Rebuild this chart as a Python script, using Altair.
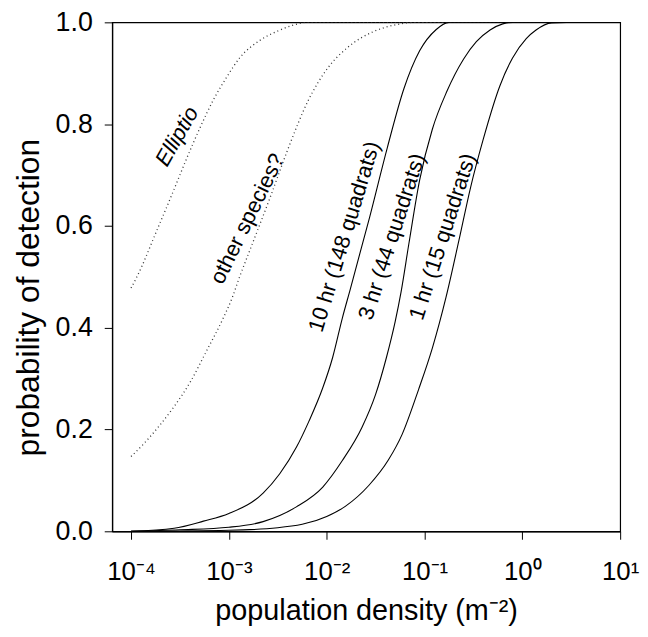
import altair as alt
import pandas as pd

ell_exp = [-4.0, -3.94, -3.73, -3.56, -3.45, -3.29, -3.16, -3.02, -2.89, -2.68, -2.5, -2.35, -2.2, 1.0]
ell_p = [0.478, 0.50, 0.594, 0.672, 0.724, 0.795, 0.847, 0.893, 0.93, 0.965, 0.983, 0.994, 1.0, 1.0]

oth_exp = [-4.0, -3.87, -3.70, -3.56, -3.39, -3.24, -3.06, -2.97, -2.89, -2.77, -2.58, -2.40, -2.19,
           -1.99, -1.79, -1.52, -1.30, -1.10, 1.0]
oth_p = [0.147, 0.172, 0.21, 0.245, 0.295, 0.35, 0.418, 0.457, 0.50, 0.56, 0.655, 0.749, 0.846,
         0.91, 0.95, 0.982, 0.995, 1.0, 1.0]

h10_exp = [-4.0, -3.56, -3.26, -3.0, -2.65, -2.48, -2.31, -2.18, -2.04, -1.94, -1.84, -1.76, -1.56,
           -1.38, -1.21, -1.05, -0.88, -0.75, 1.0]
h10_p = [0.0, 0.006, 0.02, 0.035, 0.075, 0.113, 0.165, 0.217, 0.282, 0.341, 0.419, 0.475, 0.618,
         0.754, 0.87, 0.944, 0.986, 1.0, 1.0]

h3_exp = [-4.0, -3.5, -3.0, -2.65, -2.31, -2.04, -1.84, -1.64, -1.50, -1.39, -1.30, -1.24, -1.16,
          -1.05, -0.92, -0.77, -0.60, -0.47, -0.33, -0.2, -0.1, 1.0]
h3_p = [0.0, 0.003, 0.008, 0.019, 0.048, 0.087, 0.139, 0.204, 0.269, 0.341, 0.412, 0.47, 0.565,
        0.69, 0.79, 0.865, 0.928, 0.962, 0.985, 0.997, 1.0, 1.0]

h1_exp = [-4.0, -3.0, -2.5, -2.0, -1.81, -1.57, -1.37, -1.23, -1.06, -0.92, -0.78, -0.65, -0.53,
          -0.40, -0.23, -0.10, 0.04, 0.14, 0.3, 0.45, 1.0]
h1_p = [0.0, 0.002, 0.007, 0.029, 0.049, 0.09, 0.14, 0.19, 0.279, 0.36, 0.46, 0.57, 0.675,
        0.77, 0.875, 0.93, 0.968, 0.985, 0.999, 1.0, 1.0]

series = [
    ("Elliptio", "dotted", ell_exp, ell_p),
    ("other species?", "dotted", oth_exp, oth_p),
    ("10 hr", "solid", h10_exp, h10_p),
    ("3 hr", "solid", h3_exp, h3_p),
    ("1 hr", "solid", h1_exp, h1_p),
]

rows = []
for name, style, exps, ps in series:
    for i, (e, p) in enumerate(zip(exps, ps)):
        rows.append({"series": name, "style": style, "density": 10 ** e, "p": p, "order": i})
df = pd.DataFrame(rows)

# curve labels (text, log10 density of label centre, probability, rotation)
label_text = ["Elliptio", "other species?", "10 hr (148 quadrats)", "3 hr (44 quadrats)", "1 hr (15 quadrats)"]
label_exp = [-3.53, -2.81, -1.82, -1.333, -0.815]
label_p = [0.776, 0.614, 0.579, 0.579, 0.579]
label_angle = [300, 296, 287, 288, 288]
label_italic = [True, False, False, False, False]
lab = pd.DataFrame({
    "text": label_text,
    "density": [10 ** e for e in label_exp],
    "p": label_p,
    "angle": label_angle,
    "italic": label_italic,
})

tick_vals = [1e-4, 1e-3, 1e-2, 1e-1, 1.0, 10.0]
tick_labels = ["10⁻⁴", "10⁻³", "10⁻²", "10⁻¹", "10⁰", "10¹"]
label_expr = "[" + ",".join("'%s'" % t for t in tick_labels) + "][round(log(datum.value)/LN10)+4]"

FONT = "Liberation Sans"

xscale = alt.Scale(type="log", domain=[10 ** -4.193, 10], nice=False)
yscale = alt.Scale(domain=[0, 1], nice=False)

xenc = alt.X("density:Q", scale=xscale,
             axis=alt.Axis(values=tick_vals, labelExpr=label_expr, title="population density (m⁻²)",
                           labelFontSize=26, titleFontSize=29, labelPadding=20, titlePadding=12,
                           tickSize=8, grid=False, labelFlush=False))
yenc = alt.Y("p:Q", scale=yscale,
             axis=alt.Axis(values=[0, 0.2, 0.4, 0.6, 0.8, 1.0], format=".1f", title="probability of detection",
                           labelFontSize=27, titleFontSize=32, labelPadding=12,
                           titleX=-67, titleY=277,
                           tickSize=8, grid=False))

solid = alt.Chart(df).transform_filter(alt.datum.style == "solid").mark_line(
    color="black", strokeWidth=1.1, clip=True, interpolate="monotone"
).encode(x=xenc, y=yenc, detail="series:N", order="order:Q")

dotted = alt.Chart(df).transform_filter(alt.datum.style == "dotted").mark_line(
    color="#333333", strokeWidth=1.3, strokeDash=[1, 3], clip=True, interpolate="monotone"
).encode(x=xenc, y=yenc, detail="series:N", order="order:Q")

text_it = alt.Chart(lab).transform_filter(alt.datum.italic).mark_text(
    font=FONT, fontSize=22, fontStyle="italic", align="center", baseline="middle", color="black"
).encode(x=xenc, y=yenc, text="text:N", angle=alt.Angle("angle:Q", scale=None))

text_up = alt.Chart(lab).transform_filter(~alt.datum.italic).mark_text(
    font=FONT, fontSize=22, align="center", baseline="middle", color="black"
).encode(x=xenc, y=yenc, text="text:N", angle=alt.Angle("angle:Q", scale=None))

chart = alt.layer(dotted, solid, text_it, text_up).properties(
    width=512, height=513,
    autosize=alt.AutoSizeParams(type="none"),
    padding={"left": 105, "top": 12, "right": 20, "bottom": 95},
).configure(
    font=FONT,
).configure_axis(
    labelFont=FONT, titleFont=FONT, labelColor="black", titleColor="black",
    domainColor="black", tickColor="black", titleFontWeight="normal", domainWidth=1.2, tickWidth=1,
).configure_view(
    stroke="black", strokeWidth=1.2,
)

chart.save("out.html", embed_options={"renderer": "svg", "actions": False})
